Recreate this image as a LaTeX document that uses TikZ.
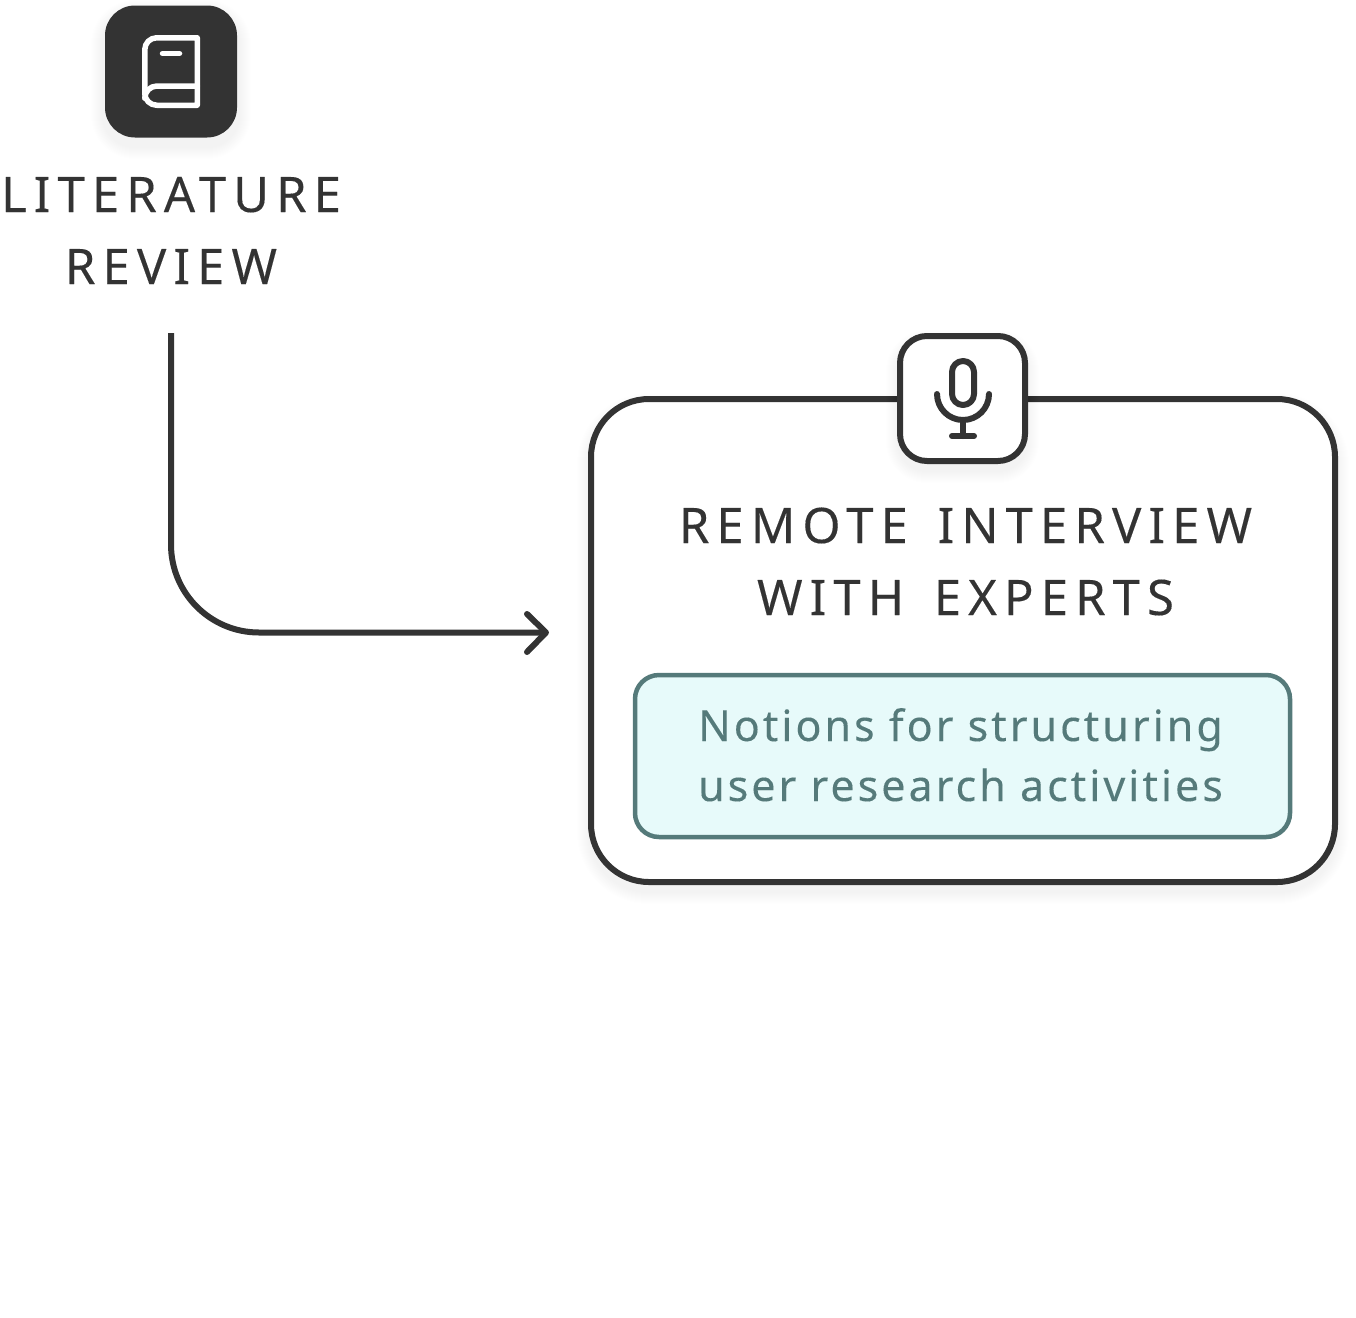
\documentclass[tikz,border=0pt]{standalone}
\usepackage{fontspec}
\setmainfont{Noto Sans}
\newfontfamily\capsfont[LetterSpace=14.5,WordSpace=1.5,FakeBold=0.25,Ligatures=NoCommon]{Noto Sans}
\newfontfamily\notefont[LetterSpace=7,FakeBold=0.15,Ligatures=NoCommon]{Noto Sans}
\definecolor{ink}{HTML}{333333}
\definecolor{teal}{HTML}{557A7A}
\definecolor{tealfill}{HTML}{E7FAFA}
\newcommand{\softshadow}[5]{%
  \foreach \i in {0,...,11}{
    \fill[black,fill opacity=0.003,rounded corners={#5+14-\i}]
      ({#1-14+\i},{#2-14+\i+8}) rectangle ({#3+14-\i},{#4+14-\i+8});
  }}
\tikzset{
  x=1pt,y=-1pt,
  inkline/.style={draw=ink,line width=6pt,line cap=round,line join=round},
  bookline/.style={draw=white,line width=5.5pt,line cap=round,line join=round},
  outerbox/.style={draw=ink,line width=6pt,fill=white,rounded corners=58pt,minimum width=744pt,minimum height=483pt,inner sep=0pt},
  notebox/.style={draw=teal,line width=4.5pt,fill=tealfill,rounded corners=24pt,minimum width=655pt,minimum height=162pt,inner sep=0pt},
  booktile/.style={fill=ink,rounded corners=30pt,minimum width=132pt,minimum height=132pt,inner sep=0pt},
  mictile/.style={draw=ink,line width=6pt,fill=white,rounded corners=27pt,minimum width=125pt,minimum height=125pt,inner sep=0pt},
  heading/.style={text=ink,font=\capsfont\fontsize{49}{72}\selectfont,align=center,inner sep=0pt},
  notetext/.style={text=teal,font=\notefont\fontsize{43}{60}\selectfont,align=center,inner sep=0pt},
}
\begin{document}
\begin{tikzpicture}
\useasboundingbox (0,0) rectangle (1356,1317);
\softshadow{105}{6}{237}{137}{30}
\softshadow{591}{399}{1335}{882}{58}
\node[booktile] (book) at (171,71.5) {};
\node[heading,anchor=base] (lit) at (171,284) {LITERATURE\\REVIEW};
\coordinate (litfoot) at (171,333);
\coordinate (corner) at (171,632.5);
\coordinate (arrowend) at (546,632.5);
\draw[inkline,line cap=butt,rounded corners=88pt] (litfoot) -- (corner) -- (arrowend);
\draw[inkline] (527,614) -- (arrowend) -- (527,652);
\node[outerbox] (remote) at (963,640.5) {};
\softshadow{900}{336}{1025}{461}{27}
\node[mictile] (mic) at (962.5,398.5) {};
\node[heading,anchor=base] (rem) at (965.5,615) {REMOTE INTERVIEW\\WITH EXPERTS};
\node[notebox] (note) at (962.5,756) {};
\node[notetext,anchor=base] (notes) at (960.5,801) {Notions for structuring\\user research activities};
% book icon
\draw[bookline] (197.25,86) -- (157,86) arc[start angle=270,end angle=180,radius=12.25];
\draw[bookline] (197.25,37.75) -- (156.75,37.75) arc[start angle=270,end angle=180,radius=12] -- (144.75,93.25)
  arc[start angle=180,end angle=90,radius=12] -- (197.25,105.25) -- cycle;
\draw[bookline] (162.5,53.5) -- (179.5,53.5);
% mic icon
\draw[inkline] (952,372) arc[start angle=180,end angle=360,radius=11] -- (974,394) arc[start angle=0,end angle=180,radius=11] -- cycle;
\draw[inkline] (937,394) arc[start angle=180,end angle=0,radius=26];
\draw[inkline] (963,420) -- (963,436);
\draw[inkline] (952,436) -- (974,436);
\end{tikzpicture}
\end{document}
